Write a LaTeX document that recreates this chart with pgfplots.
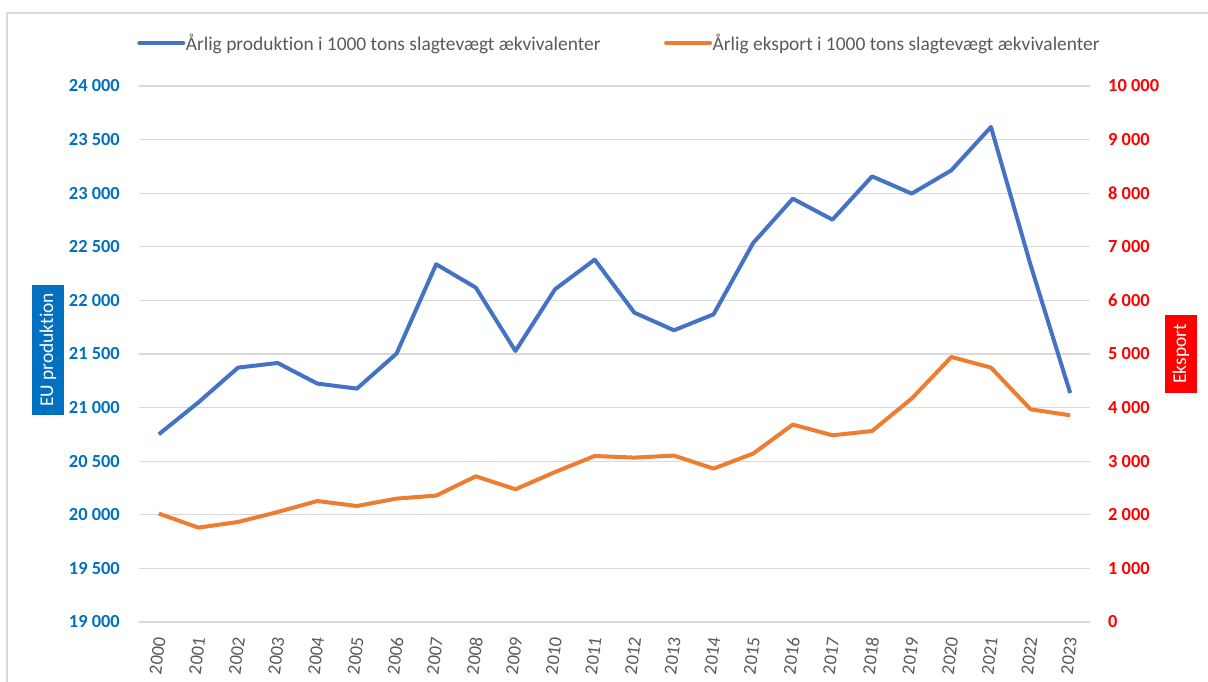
\documentclass[border=0pt]{standalone}
\usepackage{pgfplots}
\pgfplotsset{compat=1.18}
\usepackage{fontspec}
\setmainfont[Ligatures={NoCommon,NoRare}]{Carlito}
\definecolor{prodblue}{HTML}{4472C4}
\definecolor{expo}{HTML}{ED7D31}
\definecolor{tickblue}{HTML}{0070C0}
\definecolor{tickred}{HTML}{FF0000}
\definecolor{gridgray}{HTML}{D9D9D9}
\definecolor{txtgray}{HTML}{595959}

\pgfplotstableread{
x prod
0 20751
1 21049
2 21373
3 21416
4 21224
5 21177
6 21504
7 22337
8 22119
9 21528
10 22104
11 22380
12 21886
13 21721
14 21870
15 22536
16 22949
17 22753
18 23157
19 22996
20 23213
21 23618
22 22330
23 21136
}\prodtable

\pgfplotstableread{
x exp
0 2022
1 1761
2 1866
3 2052
4 2257
5 2164
6 2302
7 2358
8 2718
9 2476
10 2798
11 3097
12 3067
13 3104
14 2862
15 3142
16 3683
17 3483
18 3563
19 4168
20 4944
21 4746
22 3968
23 3856
}\exptable

\begin{document}
\begin{tikzpicture}[x=1bp,y=1bp]
\useasboundingbox (0,0) rectangle (1208,682);
\draw[gridgray, line width=1.2bp] (7,0) -- (7,669) -- (1208,669);

\begin{axis}[
  at={(139bp,60bp)}, anchor=south west,
  scale only axis, width=951bp, height=536bp,
  xmin=-0.5, xmax=23.5, ymin=19000, ymax=24000,
  scaled y ticks=false,
  axis x line*=bottom, axis y line*=left,
  axis line style={draw=none},
  major tick length=0pt,
  xtick={0,...,23},
  xticklabels={2000,2001,2002,2003,2004,2005,2006,2007,2008,2009,2010,2011,2012,2013,2014,2015,2016,2017,2018,2019,2020,2021,2022,2023},
  xticklabel style={font=\fontsize{18.5}{20}\selectfont, text=txtgray, yshift=-15bp, xshift=1bp, rotate=83, anchor=east, inner sep=0pt},
  ytick={19000,19500,...,24000},
  yticklabels={19 000,19 500,20 000,20 500,21 000,21 500,22 000,22 500,23 000,23 500,24 000},
  yticklabel style={font=\bfseries\fontsize{18.5}{20}\selectfont, text=tickblue, anchor=east, inner sep=0pt, xshift=-19bp},
  ymajorgrids, grid style={gridgray, line width=1.3bp},
  ylabel={EU produktion},
  every axis y label/.style={at={(axis description cs:-0.0957,0.5075)}, rotate=90, anchor=center,
     fill=tickblue, text=white, font=\fontsize{19.5}{21}\selectfont, minimum width=130bp, minimum height=32.6bp, inner sep=0pt},
  legend columns=2,
  legend style={at={(axis description cs:-0.002,1.080)}, anchor=west, draw=none, fill=none,
     font=\fontsize{19.5}{22}\selectfont, text=txtgray, inner sep=0pt,
     /tikz/every even column/.append style={column sep=63bp},
     nodes={inner sep=0.5bp}},
  legend image code/.code={\draw[#1, line width=4bp, line cap=round] (0bp,0bp) -- (44bp,0bp);},
  legend cell align=left,
]
\addplot[prodblue, line width=4bp, line join=round] table[x=x, y=prod] {\prodtable};
\addlegendentry{Årlig produktion i 1000 tons slagtevægt ækvivalenter}
\addlegendimage{expo, line width=4bp}
\addlegendentry{Årlig eksport i 1000 tons slagtevægt ækvivalenter}
\end{axis}

\begin{axis}[
  at={(139bp,60bp)}, anchor=south west,
  scale only axis, width=951bp, height=536bp,
  xmin=-0.5, xmax=23.5, ymin=0, ymax=10000,
  scaled y ticks=false,
  axis x line=none, axis y line*=right,
  axis line style={draw=none},
  major tick length=0pt,
  ytick={0,1000,...,10000},
  yticklabels={0,1 000,2 000,3 000,4 000,5 000,6 000,7 000,8 000,9 000,10 000},
  yticklabel style={font=\bfseries\fontsize{18.5}{20}\selectfont, text=tickred, anchor=west, inner sep=0pt, xshift=18bp},
  ylabel={Eksport},
  every axis y label/.style={at={(axis description cs:1.0957,0.5)}, rotate=90, anchor=center,
     fill=tickred, text=white, font=\fontsize{19.5}{21}\selectfont, minimum width=78bp, minimum height=32bp, inner sep=0pt},
]
\addplot[expo, line width=4bp, line join=round] table[x=x, y=exp] {\exptable};
\end{axis}
\end{tikzpicture}
\end{document}
